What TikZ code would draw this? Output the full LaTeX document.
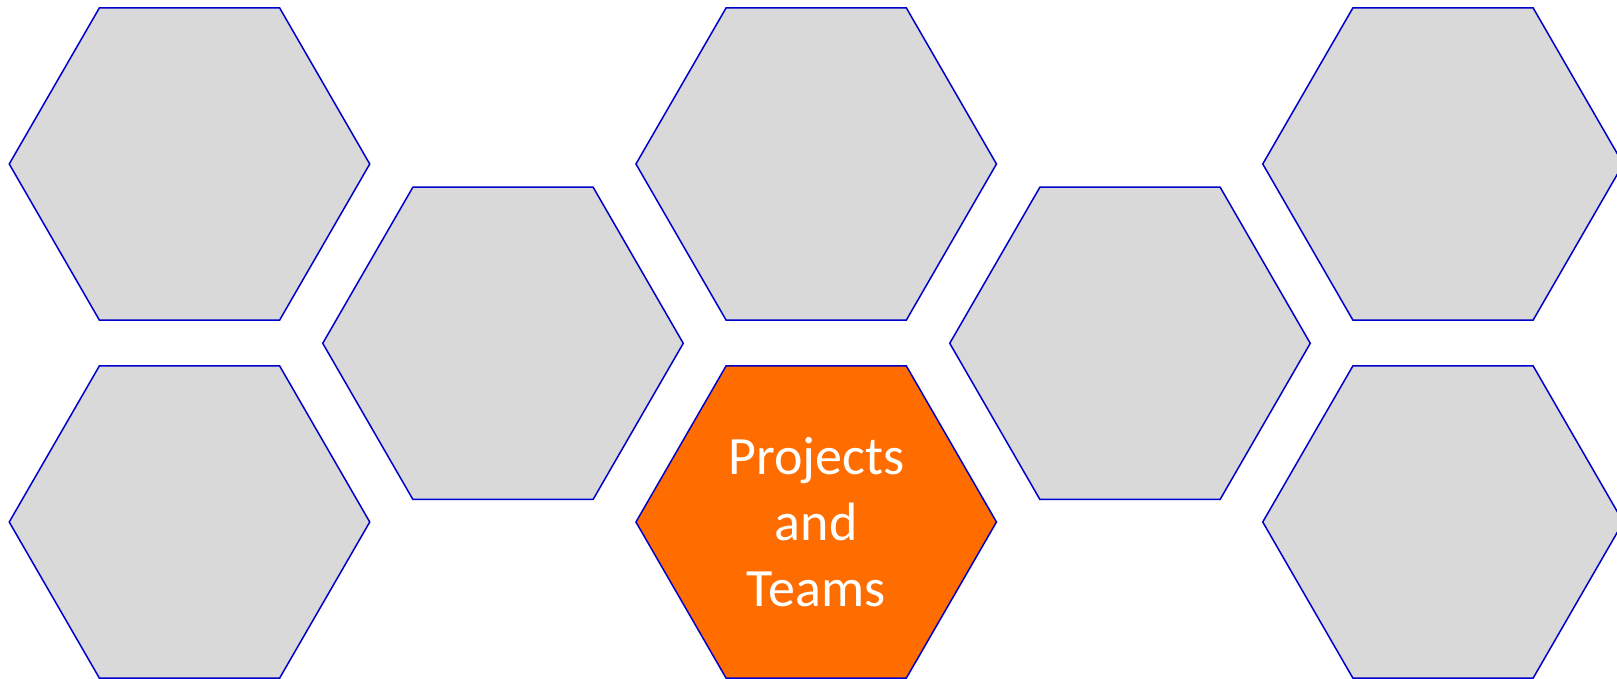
\documentclass[tikz,border=0pt]{standalone}
\usepackage{fontspec}
\setmainfont{Carlito}
\usetikzlibrary{shapes.geometric}
\definecolor{hexline}{HTML}{0000CC}
\definecolor{hexgray}{HTML}{D9D9D9}
\definecolor{hexorange}{HTML}{FF6D00}
\begin{document}
\begin{tikzpicture}[x=1pt,y=-1pt,
  hexcell/.style={regular polygon, regular polygon sides=6, minimum size=360.5pt,
    inner sep=0pt, outer sep=0pt, draw=hexline, line width=1.5pt, fill=hexgray},
  hot/.style={fill=hexorange, text=white, align=center,
    font=\fontsize{54}{66}\selectfont}]
\useasboundingbox (0,0) rectangle (1617,679);
\clip (0,0) rectangle (1617,679);
\node[hexcell] (a1) at (189.5,164) {};
\node[hexcell] (a2) at (189.5,522) {};
\node[hexcell] (b1) at (503,343.3) {};
\node[hexcell] (c1) at (816.2,164) {};
\node[hexcell,hot] (c2) at (816.2,522) {Projects\\and\\Teams};
\node[hexcell] (d1) at (1130,343.3) {};
\node[hexcell] (e1) at (1443,164) {};
\node[hexcell] (e2) at (1443,522) {};
\end{tikzpicture}
\end{document}
